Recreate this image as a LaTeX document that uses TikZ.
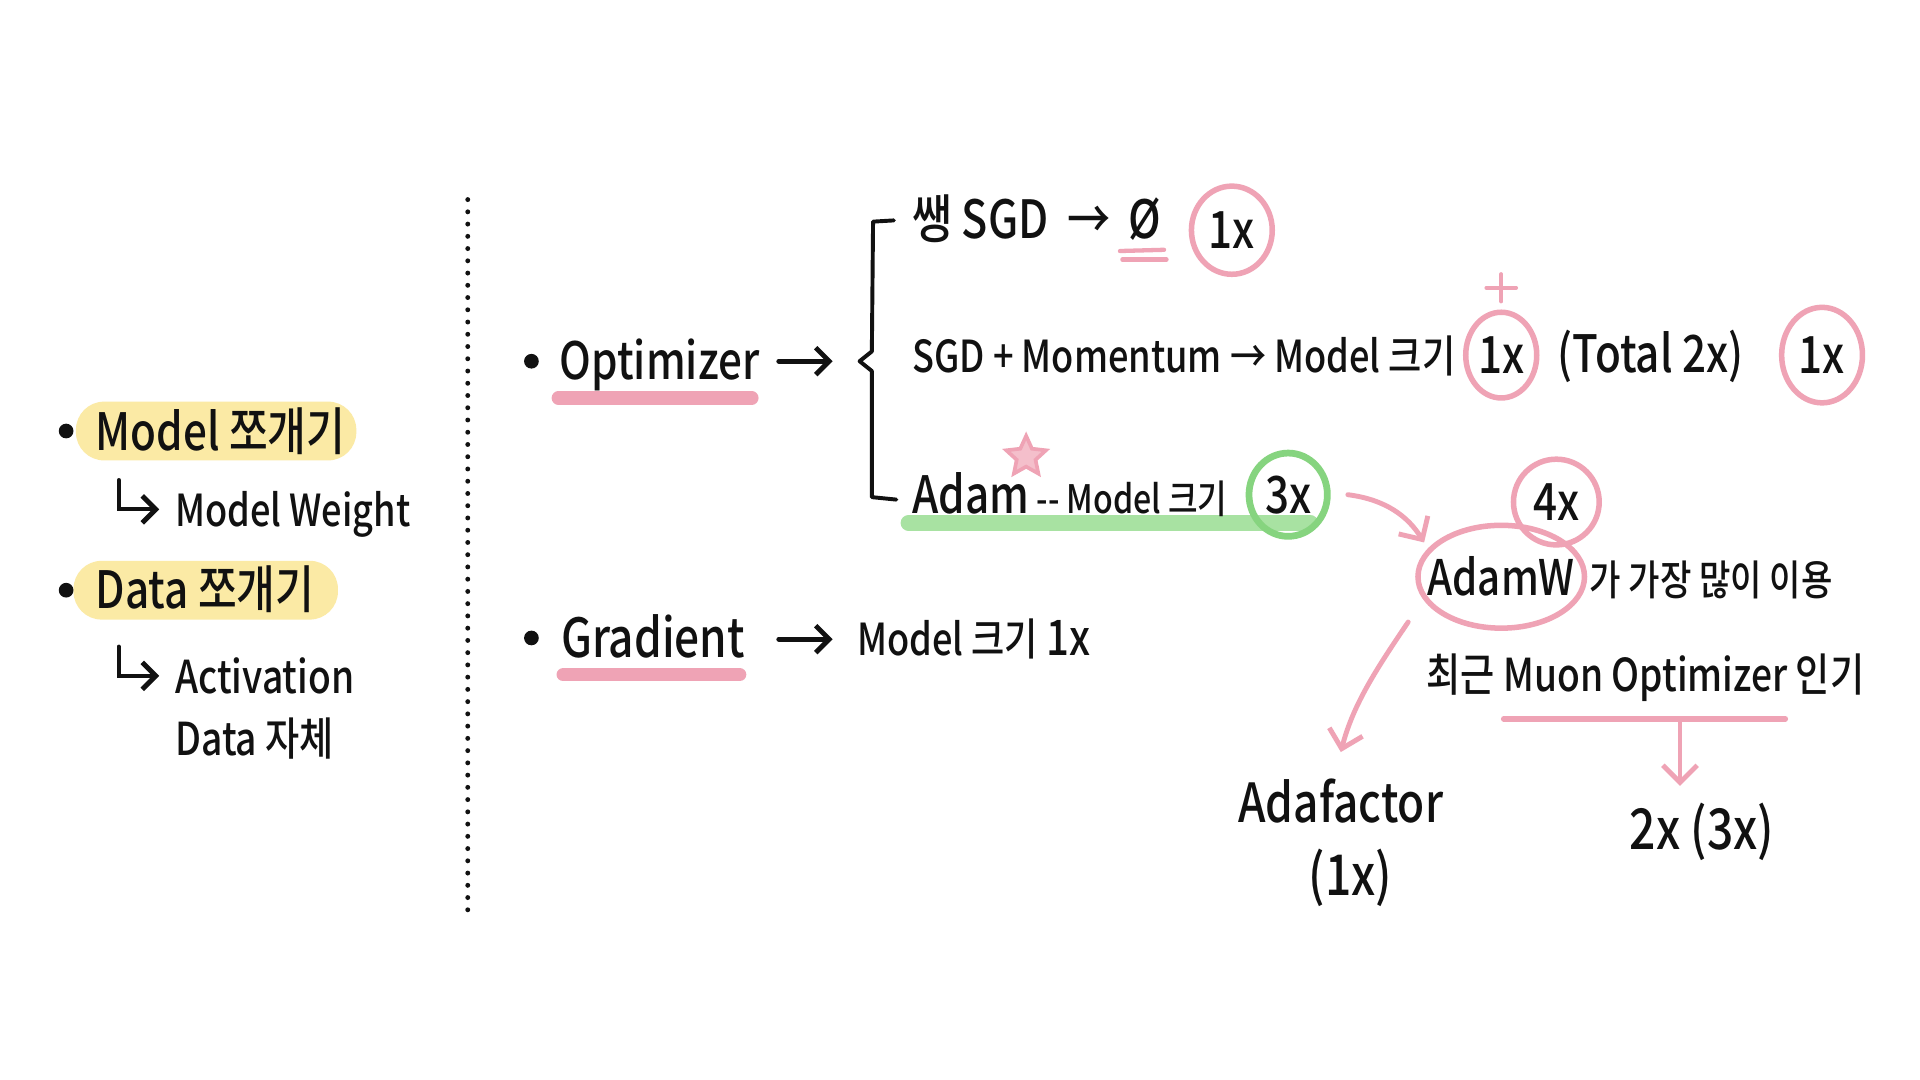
\documentclass[tikz,border=0pt]{standalone}
\usepackage{fontspec}
\setmainfont{Noto Sans CJK KR}[UprightFont={* Medium}, FakeStretch=0.82]
\usetikzlibrary{shapes.geometric,arrows.meta}
\definecolor{pinkc}{HTML}{EFA3B5}
\definecolor{greenl}{HTML}{A8E2A2}
\definecolor{greenc}{HTML}{86D47F}
\definecolor{yellowc}{HTML}{FBEAA5}
\definecolor{inkc}{HTML}{111111}
\newcommand{\fsz}[1]{\fontsize{#1}{#1}\selectfont}
\begin{document}
\begin{tikzpicture}[x=1pt,y=-1pt,
  txt/.style={inner sep=0pt, anchor=base west, text=inkc},
  ctxt/.style={inner sep=0pt, anchor=base, text=inkc},
  pcirc/.style={ellipse, draw=pinkc, line width=4.5pt, inner sep=0pt, text=inkc},
  gcirc/.style={ellipse, draw=greenc, line width=5.5pt, inner sep=0pt, text=inkc},
  pline/.style={draw=pinkc, line width=11pt, line cap=round},
  pa/.style={draw=pinkc, line width=4pt, line cap=round, -{Straight Barb[length=14pt,width=28pt,line width=4pt]}},
  ka/.style={draw=inkc, line width=4pt, line cap=round, -{Straight Barb[length=11pt,width=22pt,line width=4pt]}},
  hl/.style={fill=yellowc, rounded corners=23pt},
  dotb/.style={fill=inkc}
]
\useasboundingbox (0,0) rectangle (1568,882);
\fill[white] (0,0) rectangle (1568,882);

% ---------- left column ----------
\fill[hl] (62,328) rectangle (291,376);
\fill[hl] (60,458) rectangle (276,506);
\fill[dotb] (54,352) circle (6);
\fill[dotb] (54,482) circle (6);
\node[txt, font=\fsz{42}] (mk) at (78,368) {Model 쪼개기};
\node[txt, font=\fsz{36}] (mw) at (143,430) {Model Weight};
\node[txt, font=\fsz{42}] (dk) at (78,497) {Data 쪼개기};
\node[txt, font=\fsz{37}] (act) at (143,566) {Activation};
\node[txt, font=\fsz{37}] (dj) at (143,617) {Data 자체};
\draw[ka, line width=3.2pt] (97,392) -- (97,416) -- (130,416);
\draw[ka, line width=3.2pt] (97,528) -- (97,552) -- (130,552);

% ---------- divider ----------
\draw[inkc, line width=4pt, line cap=round, dash pattern=on 0pt off 10pt] (382,163) -- (382,748);

% ---------- optimizer ----------
\fill[dotb] (434,295) circle (6);
\draw[pline] (456,325) -- (614,325);
\node[txt, font=\fsz{42}] (opt) at (457,310) {Optimizer};
\coordinate (oa1) at (636,295);
\coordinate (oa2) at (680,295);
\draw[ka] (oa1) -- (oa2);
\draw[inkc, line width=3.2pt, line join=round, line cap=round]
  (730,180) -- (713,181) -- (712,287) -- (702,295) -- (712,303) -- (712,406) -- (732,408);

% row 1
\node[txt, font=\fsz{43}] (sgd) at (745,195) {쌩 SGD\ \,→\ \,Ø};
\draw[pinkc, line width=3.5pt, line cap=round] ([xshift=-34pt,yshift=-10pt]sgd.base east) -- ([xshift=2pt,yshift=-9pt]sgd.base east);
\draw[pinkc, line width=3.5pt, line cap=round] ([xshift=-32pt,yshift=-17pt]sgd.base east) -- ([xshift=4pt,yshift=-17pt]sgd.base east);
\node[pcirc, font=\fsz{42}, minimum width=66pt, minimum height=72pt] (c1) at (1006,188) {1x};

% row 2
\node[txt, font=\fsz{36}] (mom) at (745,304) {SGD + Momentum → Model 크기};
\node[pcirc, font=\fsz{42}, minimum width=58pt, minimum height=70pt] (cm) at (1226,290) {1x};
\draw[pinkc, line width=3.5pt, line cap=round] (1226,224) -- (1226,246);
\draw[pinkc, line width=3.5pt, line cap=round] (1214,235) -- (1238,235);
\node[txt, font=\fsz{42}] (tot) at (1272,304) {(Total 2x)};
\node[pcirc, font=\fsz{42}, minimum width=66pt, minimum height=78pt] (cr) at (1488,290) {1x};

% row 3
\draw[greenl, line width=13pt, line cap=round] (742,427) -- (1070,427);
\node[star, star points=5, star point ratio=2.1, draw=pinkc, fill=pinkc!70, line width=3pt, minimum size=34pt, inner sep=0pt] (st) at (838,373) {};
\node[txt] (adam) at (745,419) {\fsz{42}Adam\fsz{32} -{}- Model 크기};
\node[gcirc, font=\fsz{42}, minimum width=64pt, minimum height=68pt] (c3) at (1052,404) {3x};

% AdamW
\node[pcirc, font=\fsz{42}, minimum width=70pt, minimum height=70pt] (c4) at (1271,410) {4x};
\node[ctxt, font=\fsz{40}, anchor=center] (aw) at (1226,471) {AdamW};
\draw[pinkc, line width=4.5pt] (aw.center) ellipse [x radius=68, y radius=42];
\node[txt, font=\fsz{34}] (most) at (1298,486) {가 가장 많이 이용};
\draw[pa] ([xshift=14pt]c3.east) .. controls (1132,408) and (1150,422) .. (1163,443);

\node[txt, font=\fsz{37}] (muon) at (1165,565) {최근 Muon Optimizer 인기};
\draw[pinkc, line width=4.5pt, line cap=round] (1228,587) -- (1458,587);
\coordinate (mu) at (1372,588);

\node[ctxt, font=\fsz{44}] (ada) at (1095,672) {Adafactor};
\node[ctxt, font=\fsz{46}] (ada1) at (1103,731) {(1x)};
\node[ctxt, font=\fsz{46}] (t23) at (1390,694) {2x (3x)};

\draw[pa] (1150,508) .. controls (1125,545) and (1105,575) .. ([yshift=22pt]ada.north);
\draw[pa] (mu) -- ([yshift=14pt]mu |- t23.north);

% ---------- gradient ----------
\fill[dotb] (434,521) circle (6);
\draw[pline] (460,551) -- (604,551);
\node[txt, font=\fsz{44}] (grad) at (458,537) {Gradient};
\coordinate (ga1) at (636,522);
\coordinate (ga2) at (680,522);
\draw[ka] (ga1) -- (ga2);
\node[txt, font=\fsz{36}] (gm) at (700,535) {Model 크기 \fsz{40}1x};
\end{tikzpicture}
\end{document}
